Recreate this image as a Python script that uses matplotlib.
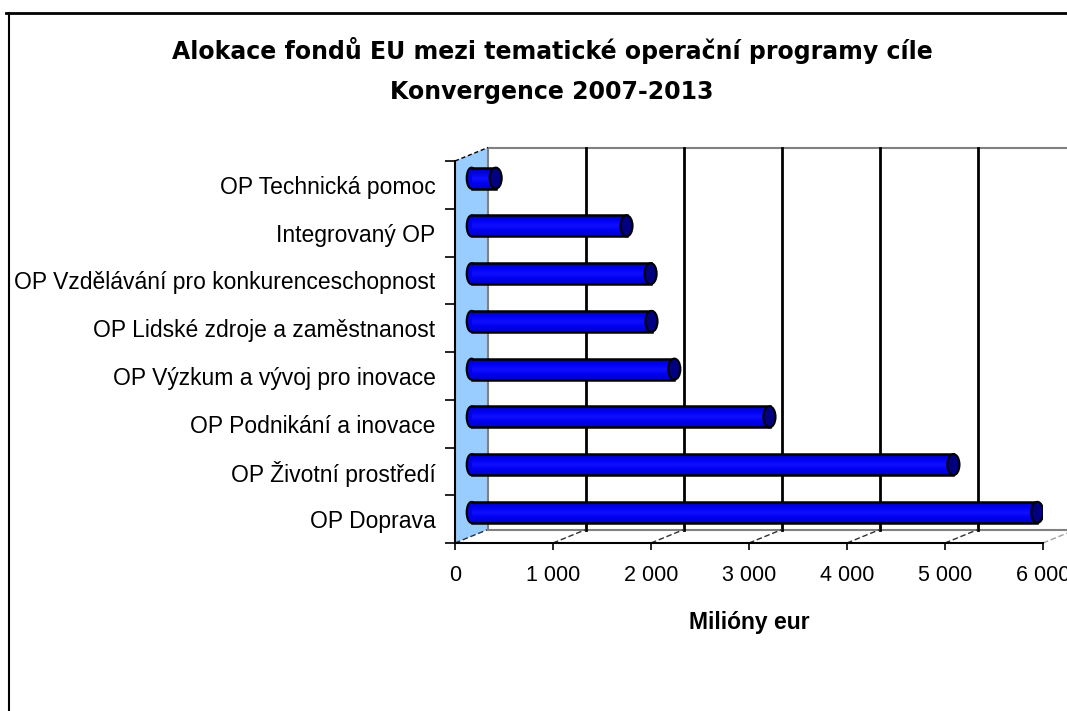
#!/usr/bin/env python3
"""Alokace fondů EU mezi tematické OP cíle Konvergence 2007-2013 (pseudo-3D válce)."""
import numpy as np
import matplotlib
matplotlib.use("Agg")
import matplotlib.pyplot as plt
from matplotlib.patches import Ellipse, Polygon
from matplotlib.lines import Line2D
from matplotlib.colors import LinearSegmentedColormap

CATEGORIES = [
    "OP Doprava",
    "OP Životní prostředí",
    "OP Podnikání a inovace",
    "OP Výzkum a vývoj pro inovace",
    "OP Lidské zdroje a zaměstnanost",
    "OP Vzdělávání pro konkurenceschopnost",
    "Integrovaný OP",
    "OP Technická pomoc",
]
VALUES = [5774, 4918, 3041, 2070, 1837, 1828, 1582, 247]
X_TICKS = [0, 1000, 2000, 3000, 4000, 5000, 6000]
X_TICK_LABELS = ["0", "1 000", "2 000", "3 000", "4 000", "5 000", "6 000"]
TITLE_LINES = ["Alokace fondů EU mezi tematické operační programy cíle", "Konvergence 2007-2013"]
XLABEL = "Milióny eur"

W, H = 1067, 711
plt.rcParams["font.family"] = ["Liberation Sans", "DejaVu Sans"]
fig = plt.figure(figsize=(W / 100, H / 100), dpi=100)

# front plane of the 3D box
left, right, bottom, top = 455, 1043, 543, 161
ax = fig.add_axes([left / W, 1 - bottom / H, (right - left) / W, (bottom - top) / H])
xmax = X_TICKS[-1]
n = len(CATEGORIES)

px_x = xmax / (right - left)       # data per pixel, x
px_y = n / (bottom - top)          # data per pixel, y
dx, dy = 33 * px_x, 13.5 * px_y    # depth offset

for s in ax.spines.values():
    s.set_visible(False)

# back wall
y_lo, y_hi = -0.5, n - 0.5
ax.add_line(Line2D([dx, xmax + dx * 1.2], [y_hi + dy, y_hi + dy], color="#808080", lw=1.5, clip_on=False))
ax.add_line(Line2D([dx, xmax + dx * 1.2], [y_lo + dy, y_lo + dy], color="#808080", lw=1.5, clip_on=False))
for t in X_TICKS[1:]:
    ax.add_line(Line2D([t + dx, t + dx], [y_lo + dy, y_hi + dy], color="black", lw=2, clip_on=False))
# floor depth lines
for t in X_TICKS:
    ax.add_line(Line2D([t, t + dx], [y_lo, y_lo + dy], color="#303030" if t < xmax else "#a0a0a0",
                       lw=1, ls=(0, (4, 2)), clip_on=False))
# side wall
wall = Polygon([(0, y_lo), (0, y_hi), (dx, y_hi + dy), (dx, y_lo + dy)], closed=True,
               facecolor="#99ccff", edgecolor="none", zorder=1, clip_on=False)
ax.add_patch(wall)
ax.add_line(Line2D([dx, dx], [y_lo + dy, y_hi + dy], color="#808080", lw=1.5, clip_on=False))
ax.add_line(Line2D([0, dx], [y_hi, y_hi + dy], color="black", lw=1, ls=(0, (3, 2)), clip_on=False))
ax.add_line(Line2D([0, 0], [y_lo, y_hi], color="black", lw=1.5, clip_on=False, zorder=5))
ax.add_line(Line2D([0, xmax], [y_lo, y_lo], color="black", lw=1.5, clip_on=False, zorder=5))

# cylinders
cmap = LinearSegmentedColormap.from_list("cyl", ["#0000b0", "#0000f0", "#1010ff", "#0000f0", "#0000c0"])
grad = np.linspace(0, 1, 64).reshape(-1, 1)
h = 21 * px_y
ew = 12 * px_x
for i, v in enumerate(VALUES):
    x0 = dx / 2
    yc = i + dy / 2
    ax.add_patch(Ellipse((x0, yc), ew * 0.8, h, facecolor="#0000e0", edgecolor="black", lw=1.5, zorder=3))
    ax.imshow(grad, cmap=cmap, aspect="auto", extent=[x0, x0 + v, yc - h / 2, yc + h / 2],
              zorder=3.5, interpolation="bilinear")
    ax.add_line(Line2D([x0, x0 + v], [yc + h / 2, yc + h / 2], color="black", lw=1.8, zorder=4))
    ax.add_line(Line2D([x0, x0 + v], [yc - h / 2, yc - h / 2], color="black", lw=1.8, zorder=4))
    ax.add_patch(Ellipse((x0 + v, yc), ew, h, facecolor="#000080", edgecolor="black", lw=1.5, zorder=4.5))

ax.set_xlim(0, xmax)
ax.set_ylim(-0.5, n - 0.5)

# ticks
ax.set_xticks(X_TICKS)
ax.set_xticklabels(X_TICK_LABELS)
ax.tick_params(axis="x", length=5, width=1.2, pad=11, labelsize=15.5)
ax.set_yticks(np.arange(n))
ax.set_yticklabels(CATEGORIES)
ax.set_yticks(np.arange(n + 1) - 0.5, minor=True)
ax.tick_params(axis="y", which="major", length=0, pad=14, labelsize=16.5)
ax.tick_params(axis="y", which="minor", length=7, width=1.2)
ax.set_xlabel(XLABEL, fontsize=16.5, fontweight="bold", labelpad=18)

for k, line in enumerate(TITLE_LINES):
    fig.text(552 / W, 1 - (51 + 41 * k) / H, line, ha="center", va="center", fontsize=17,
             fontweight="bold", family="DejaVu Sans")

# outer chart frame
fig.add_artist(Line2D([6 / W, 1], [1 - 13 / H, 1 - 13 / H], color="black", lw=2, transform=fig.transFigure))
fig.add_artist(Line2D([9 / W, 9 / W], [0, 1 - 13 / H], color="black", lw=1.5, transform=fig.transFigure))

fig.savefig("out.png", dpi=100)
